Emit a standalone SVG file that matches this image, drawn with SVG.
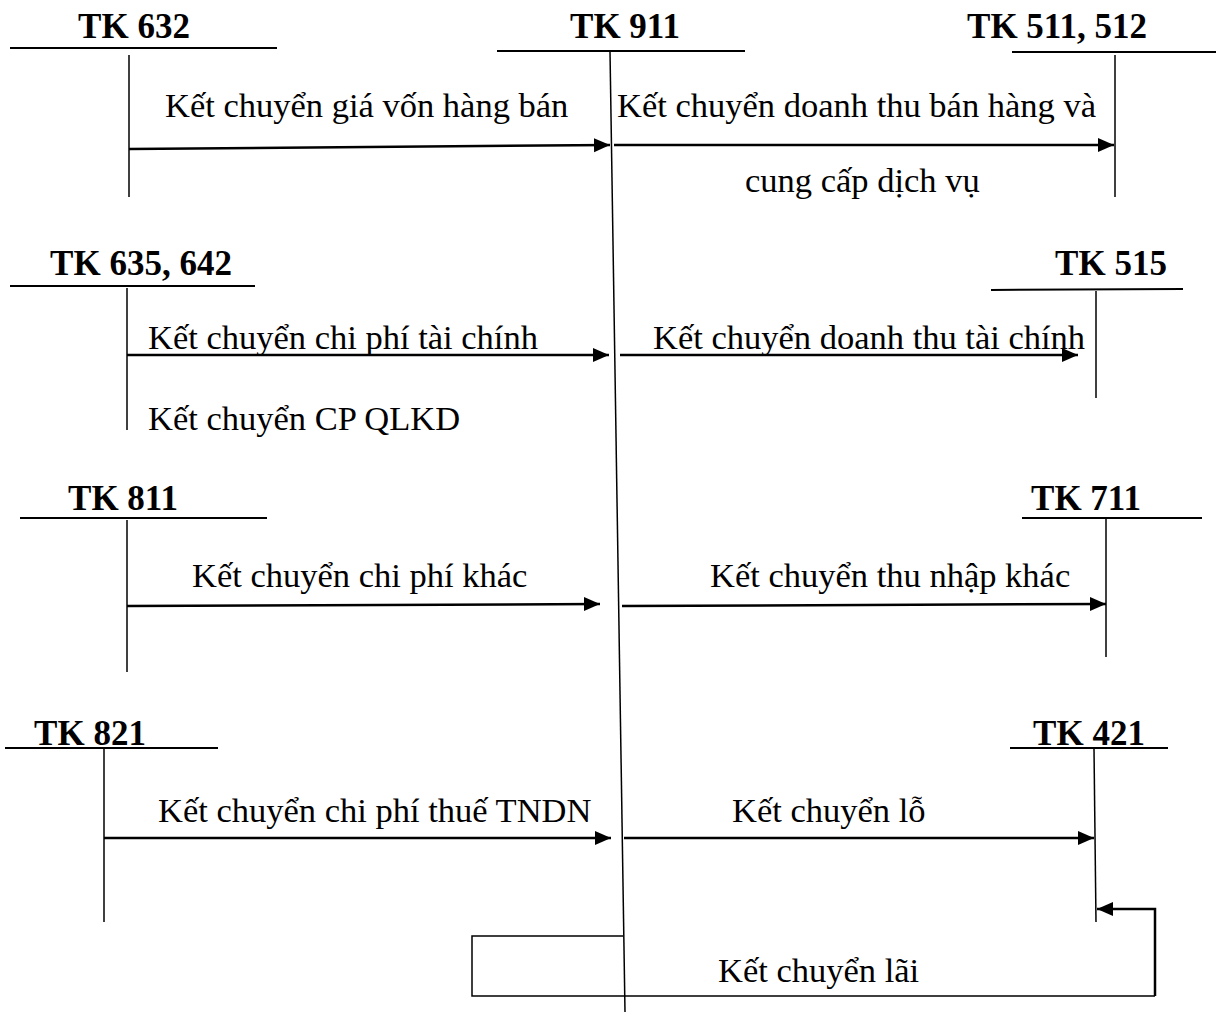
<svg xmlns="http://www.w3.org/2000/svg" width="1216" height="1015" viewBox="0 0 1216 1015">
<style>
.t{font-family:"Liberation Serif","Times New Roman",serif;font-size:34.5px;fill:#000}
.h{font-family:"Liberation Serif","Times New Roman",serif;font-size:35px;font-weight:bold;fill:#000;text-anchor:middle}
.ln{stroke:#000;stroke-width:1.5;fill:none}
.hd{stroke:#000;stroke-width:2;fill:none}
.ar{stroke:#000;stroke-width:2.5;fill:none;marker-end:url(#ah)}
</style>
<defs>
<marker id="ah" markerUnits="userSpaceOnUse" markerWidth="18" markerHeight="16" refX="16" refY="7" orient="auto">
<path d="M0,0 L16,7 L0,14 Z" fill="#000"/>
</marker>
</defs>
<rect width="1216" height="1015" fill="#fff"/>
<g id="tk911">
<text class="h" x="625" y="38">TK 911</text>
<line class="hd" x1="497" y1="51" x2="745" y2="51"/>
<line class="ln" x1="610" y1="51" x2="625" y2="1012"/>
</g>
<g id="tk632">
<text class="h" x="134" y="38">TK 632</text>
<line class="hd" x1="10" y1="48" x2="277" y2="48"/>
<line class="ln" x1="129" y1="55" x2="129" y2="197"/>
</g>
<g id="tk511">
<text class="h" x="1057" y="38">TK 511, 512</text>
<line class="hd" x1="1012" y1="52" x2="1216" y2="52"/>
<line class="ln" x1="1115" y1="55" x2="1115" y2="197"/>
</g>
<g id="tk635">
<text class="h" x="141" y="275">TK 635, 642</text>
<line class="hd" x1="10" y1="286" x2="255" y2="286"/>
<line class="ln" x1="127" y1="288" x2="127" y2="430"/>
</g>
<g id="tk515">
<text class="h" x="1111" y="275">TK 515</text>
<line class="hd" x1="991" y1="290" x2="1183" y2="289"/>
<line class="ln" x1="1096" y1="291" x2="1096" y2="398"/>
</g>
<g id="tk811">
<text class="h" x="123" y="510">TK 811</text>
<line class="hd" x1="20" y1="518" x2="267" y2="518"/>
<line class="ln" x1="127" y1="520" x2="127" y2="672"/>
</g>
<g id="tk711">
<text class="h" x="1086" y="510">TK 711</text>
<line class="hd" x1="1022" y1="518" x2="1202" y2="518"/>
<line class="ln" x1="1106" y1="519" x2="1106" y2="657"/>
</g>
<g id="tk821">
<text class="h" x="90" y="745">TK 821</text>
<line class="hd" x1="5" y1="748" x2="218" y2="748"/>
<line class="ln" x1="104" y1="749" x2="104" y2="922"/>
</g>
<g id="tk421">
<text class="h" x="1089" y="745">TK 421</text>
<line class="hd" x1="1010" y1="748" x2="1168" y2="748"/>
<line class="ln" x1="1094" y1="749" x2="1096" y2="922"/>
</g>
<g id="connectors">
<line class="ar" x1="129" y1="149" x2="610" y2="145"/>
<line class="ar" x1="614" y1="145" x2="1114" y2="145"/>
<line class="ar" x1="127" y1="355" x2="609" y2="355"/>
<line class="ar" x1="620" y1="355" x2="1078" y2="355"/>
<line class="ar" x1="127" y1="606" x2="600" y2="604"/>
<line class="ar" x1="622" y1="606" x2="1106" y2="604"/>
<line class="ar" x1="104" y1="838" x2="611" y2="838"/>
<line class="ar" x1="624" y1="838" x2="1094" y2="838"/>
<polyline class="ar" points="1155,996 1155,909 1097,909"/>
<polyline class="ln" points="623,936 472,936 472,996 1155,996"/>
</g>
<g id="labels">
<text class="t" x="165" y="117">Kết chuyển giá vốn hàng bán</text>
<text class="t" x="617" y="117">Kết chuyển doanh thu bán hàng và</text>
<text class="t" x="745" y="192">cung cấp dịch vụ</text>
<text class="t" x="148" y="349">Kết chuyển chi phí tài chính</text>
<text class="t" x="148" y="430">Kết chuyển CP QLKD</text>
<text class="t" x="653" y="349">Kết chuyển doanh thu tài chính</text>
<text class="t" x="192" y="587">Kết chuyển chi phí khác</text>
<text class="t" x="710" y="587">Kết chuyển thu nhập khác</text>
<text class="t" x="158" y="822">Kết chuyển chi phí thuế TNDN</text>
<text class="t" x="732" y="822">Kết chuyển lỗ</text>
<text class="t" x="718" y="982">Kết chuyển lãi</text>
</g>
</svg>
